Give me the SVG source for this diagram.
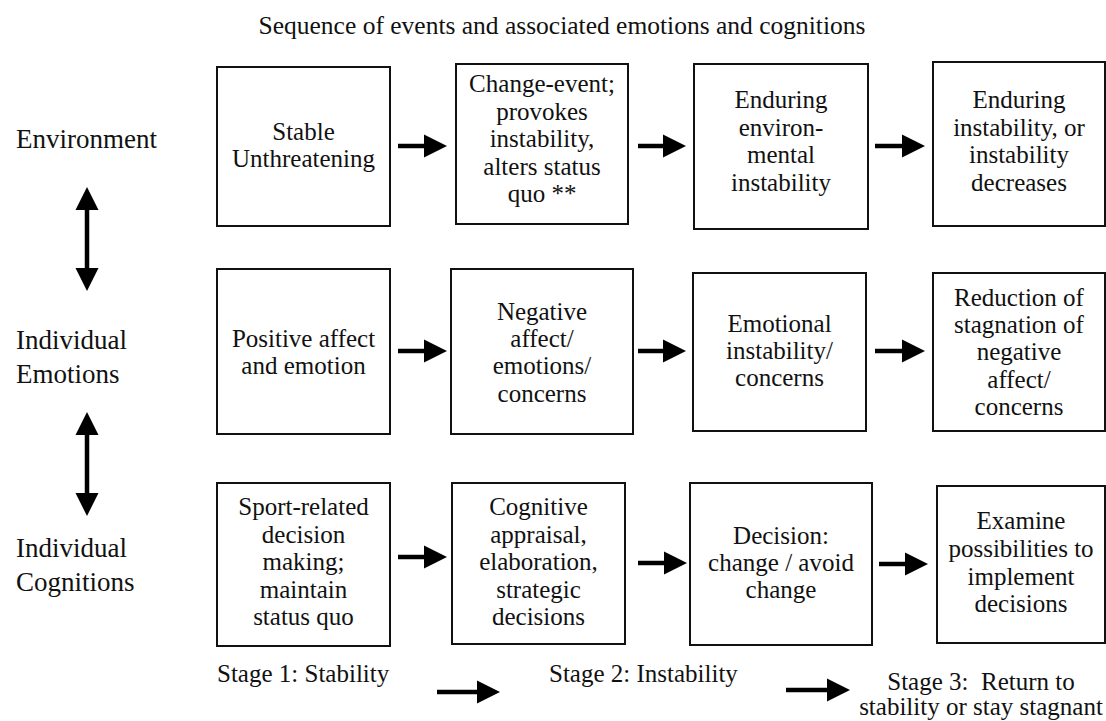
<svg xmlns="http://www.w3.org/2000/svg" width="1106" height="721" viewBox="0 0 1106 721" font-family="'Liberation Serif', 'Times New Roman', serif">
<style>
  text { font-family: "Liberation Serif", "Times New Roman", serif; fill: #111; }
  .t { font-size: 25px; }
  .lbl { font-size: 27px; }
  .title { font-size: 25.5px; }
  .stage { font-size: 25px; }
  .box { fill: #fff; stroke: #111; stroke-width: 2; }
  .arr { stroke: #000; stroke-width: 4.5; fill: none; marker-end: url(#head); }
  .darr { stroke: #000; stroke-width: 4.5; fill: none; marker-end: url(#head); marker-start: url(#head); }
</style>
<defs>
  <marker id="head" markerUnits="userSpaceOnUse" markerWidth="24" markerHeight="24" refX="0" refY="11.5" orient="auto-start-reverse" viewBox="0 0 24 23">
    <path d="M0,0 L23,11.5 L0,23 z" fill="#000"/>
  </marker>
</defs>
<rect width="1106" height="721" fill="#fff"/>

<text class="title" x="562" y="34" text-anchor="middle">Sequence of events and associated emotions and cognitions</text>

<g id="label-environment"><text class="lbl" x="16" y="148">Environment</text></g>
<g id="label-emotions"><text class="lbl" x="16" y="349">Individual</text><text class="lbl" x="16" y="383">Emotions</text></g>
<g id="label-cognitions"><text class="lbl" x="16" y="557">Individual</text><text class="lbl" x="16" y="591">Cognitions</text></g>

<!-- Row 1: Environment -->
<g id="env1" text-anchor="middle"><rect class="box" x="217" y="67" width="173" height="159"/>
  <text class="t" x="303.5" y="140">Stable</text><text class="t" x="303.5" y="167">Unthreatening</text></g>
<g id="env2" text-anchor="middle"><rect class="box" x="456" y="64" width="172" height="160"/>
  <text class="t" x="542" y="92">Change-event;</text><text class="t" x="542" y="119.5">provokes</text><text class="t" x="542" y="147">instability,</text><text class="t" x="542" y="174.5">alters status</text><text class="t" x="542" y="202">quo **</text></g>
<g id="env3" text-anchor="middle"><rect class="box" x="694" y="64" width="174" height="165"/>
  <text class="t" x="781" y="108">Enduring</text><text class="t" x="781" y="135.5">environ-</text><text class="t" x="781" y="163">mental</text><text class="t" x="781" y="190.5">instability</text></g>
<g id="env4" text-anchor="middle"><rect class="box" x="933" y="62" width="172" height="164"/>
  <text class="t" x="1019" y="108">Enduring</text><text class="t" x="1019" y="135.5">instability, or</text><text class="t" x="1019" y="163">instability</text><text class="t" x="1019" y="190.5">decreases</text></g>

<!-- Row 2: Emotions -->
<g id="emo1" text-anchor="middle"><rect class="box" x="217" y="269" width="173" height="165"/>
  <text class="t" x="303.5" y="347">Positive affect</text><text class="t" x="303.5" y="374">and emotion</text></g>
<g id="emo2" text-anchor="middle"><rect class="box" x="451" y="269" width="182" height="165"/>
  <text class="t" x="542" y="320">Negative</text><text class="t" x="542" y="347">affect/</text><text class="t" x="542" y="374">emotions/</text><text class="t" x="542" y="401.5">concerns</text></g>
<g id="emo3" text-anchor="middle"><rect class="box" x="693" y="273" width="173" height="158"/>
  <text class="t" x="779.5" y="331.5">Emotional</text><text class="t" x="779.5" y="359">instability/</text><text class="t" x="779.5" y="386">concerns</text></g>
<g id="emo4" text-anchor="middle"><rect class="box" x="933" y="273" width="172" height="158"/>
  <text class="t" x="1019" y="306">Reduction of</text><text class="t" x="1019" y="333">stagnation of</text><text class="t" x="1019" y="360">negative</text><text class="t" x="1019" y="387.5">affect/</text><text class="t" x="1019" y="415">concerns</text></g>

<!-- Row 3: Cognitions -->
<g id="cog1" text-anchor="middle"><rect class="box" x="217" y="483" width="173" height="163"/>
  <text class="t" x="303.5" y="515">Sport-related</text><text class="t" x="303.5" y="542.5">decision</text><text class="t" x="303.5" y="570">making;</text><text class="t" x="303.5" y="597.5">maintain</text><text class="t" x="303.5" y="625">status quo</text></g>
<g id="cog2" text-anchor="middle"><rect class="box" x="452" y="483" width="173" height="161"/>
  <text class="t" x="538.5" y="515">Cognitive</text><text class="t" x="538.5" y="542.5">appraisal,</text><text class="t" x="538.5" y="570">elaboration,</text><text class="t" x="538.5" y="597.5">strategic</text><text class="t" x="538.5" y="625">decisions</text></g>
<g id="cog3" text-anchor="middle"><rect class="box" x="690" y="483" width="182" height="162"/>
  <text class="t" x="781" y="544">Decision:</text><text class="t" x="781" y="570.5">change / avoid</text><text class="t" x="781" y="597.5">change</text></g>
<g id="cog4" text-anchor="middle"><rect class="box" x="937" y="486" width="168" height="157"/>
  <text class="t" x="1021" y="529">Examine</text><text class="t" x="1021" y="557">possibilities to</text><text class="t" x="1021" y="584.5">implement</text><text class="t" x="1021" y="612">decisions</text></g>

<!-- Stage labels -->
<g id="stage1"><text class="stage" x="217" y="682">Stage 1: Stability</text></g>
<g id="stage2"><text class="stage" x="549" y="682">Stage 2: Instability</text></g>
<g id="stage3"><text class="stage" x="981" y="690" text-anchor="middle" xml:space="preserve">Stage 3:  Return to</text><text class="stage" x="981" y="715" text-anchor="middle">stability or stay stagnant</text></g>

<g id="connectors">
  <line class="arr" x1="398" y1="146" x2="424" y2="146"/>
  <line class="arr" x1="638" y1="146" x2="663" y2="146"/>
  <line class="arr" x1="875" y1="146" x2="902" y2="146"/>
  <line class="arr" x1="398" y1="351" x2="424" y2="351"/>
  <line class="arr" x1="638" y1="351" x2="663" y2="351"/>
  <line class="arr" x1="875" y1="351" x2="902" y2="351"/>
  <line class="arr" x1="398" y1="557" x2="424" y2="557"/>
  <line class="arr" x1="638" y1="563" x2="664" y2="563"/>
  <line class="arr" x1="879" y1="564" x2="905" y2="564"/>
  <line class="arr" x1="437" y1="692" x2="477" y2="692"/>
  <line class="arr" x1="786" y1="690" x2="827" y2="690"/>
  <line class="darr" x1="87" y1="210" x2="87" y2="268"/>
  <line class="darr" x1="87" y1="435" x2="87" y2="493"/>
</g>
</svg>
